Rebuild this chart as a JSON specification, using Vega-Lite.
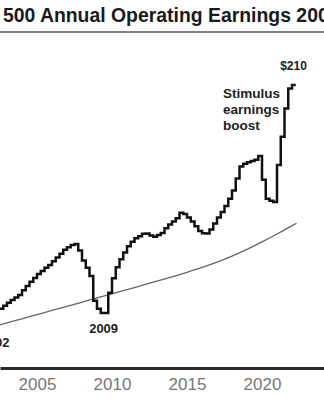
{
  "$schema": "https://vega.github.io/schema/vega-lite/v6.json",
  "width": 324,
  "height": 336,
  "autosize": {"type": "none"},
  "padding": {"left": 0, "right": 0, "top": 32, "bottom": 32},
  "background": "white",
  "title": {
    "text": "S&P 500 Annual Operating Earnings 2002-2022",
    "anchor": "start",
    "frame": "group",
    "dx": -42,
    "dy": 20,
    "offset": 10,
    "baseline": "alphabetic",
    "font": "Liberation Sans",
    "fontSize": 19.4,
    "fontWeight": "bold",
    "color": "#1a1a1a"
  },
  "config": {"view": {"stroke": null}},
  "datasets": {
    "earnings": [
      {"year": 2002.5, "eps": 44.0}, {"year": 2002.75, "eps": 46.3}, {"year": 2003.0, "eps": 48.6}, {"year": 2003.25, "eps": 50.6},
      {"year": 2003.5, "eps": 52.5}, {"year": 2003.75, "eps": 54.4}, {"year": 2004.0, "eps": 57.8}, {"year": 2004.25, "eps": 61.1},
      {"year": 2004.5, "eps": 64.2}, {"year": 2004.75, "eps": 67.0}, {"year": 2005.0, "eps": 69.9}, {"year": 2005.25, "eps": 72.2},
      {"year": 2005.5, "eps": 74.5}, {"year": 2005.75, "eps": 76.7}, {"year": 2006.0, "eps": 79.5}, {"year": 2006.25, "eps": 82.2},
      {"year": 2006.5, "eps": 85.1}, {"year": 2006.75, "eps": 88.0}, {"year": 2007.0, "eps": 89.8}, {"year": 2007.25, "eps": 91.5},
      {"year": 2007.5, "eps": 92.3}, {"year": 2007.75, "eps": 87.5}, {"year": 2008.0, "eps": 80.0}, {"year": 2008.25, "eps": 74.5},
      {"year": 2008.5, "eps": 68.5}, {"year": 2008.75, "eps": 50.0}, {"year": 2009.0, "eps": 44.0}, {"year": 2009.25, "eps": 41.0},
      {"year": 2009.5, "eps": 41.0}, {"year": 2009.75, "eps": 56.0}, {"year": 2010.0, "eps": 66.7}, {"year": 2010.25, "eps": 75.0},
      {"year": 2010.5, "eps": 81.0}, {"year": 2010.75, "eps": 86.0}, {"year": 2011.0, "eps": 90.5}, {"year": 2011.25, "eps": 94.0},
      {"year": 2011.5, "eps": 96.5}, {"year": 2011.75, "eps": 98.0}, {"year": 2012.0, "eps": 99.8}, {"year": 2012.25, "eps": 100.0},
      {"year": 2012.5, "eps": 98.5}, {"year": 2012.75, "eps": 97.7}, {"year": 2013.0, "eps": 99.0}, {"year": 2013.25, "eps": 100.5},
      {"year": 2013.5, "eps": 104.0}, {"year": 2013.75, "eps": 106.8}, {"year": 2014.0, "eps": 109.0}, {"year": 2014.25, "eps": 111.5},
      {"year": 2014.5, "eps": 115.5}, {"year": 2014.75, "eps": 114.5}, {"year": 2015.0, "eps": 112.0}, {"year": 2015.25, "eps": 109.0},
      {"year": 2015.5, "eps": 105.5}, {"year": 2015.75, "eps": 102.0}, {"year": 2016.0, "eps": 100.2}, {"year": 2016.25, "eps": 100.0},
      {"year": 2016.5, "eps": 103.0}, {"year": 2016.75, "eps": 107.5}, {"year": 2017.0, "eps": 112.0}, {"year": 2017.25, "eps": 116.0},
      {"year": 2017.5, "eps": 120.5}, {"year": 2017.75, "eps": 126.0}, {"year": 2018.0, "eps": 132.0}, {"year": 2018.25, "eps": 141.0},
      {"year": 2018.5, "eps": 150.0}, {"year": 2018.75, "eps": 152.0}, {"year": 2019.0, "eps": 153.0}, {"year": 2019.25, "eps": 154.0},
      {"year": 2019.5, "eps": 155.0}, {"year": 2019.75, "eps": 157.7}, {"year": 2020.0, "eps": 140.0}, {"year": 2020.25, "eps": 126.0},
      {"year": 2020.5, "eps": 124.5}, {"year": 2020.75, "eps": 123.5}, {"year": 2021.0, "eps": 151.0}, {"year": 2021.25, "eps": 172.0},
      {"year": 2021.5, "eps": 193.0}, {"year": 2021.75, "eps": 208.0}, {"year": 2022.0, "eps": 210.5}, {"year": 2022.25, "eps": 210.5}
    ],
    "trend": [
      {"year": 2002.5, "eps": 32.0}, {"year": 2003, "eps": 33.5}, {"year": 2004, "eps": 36.6}, {"year": 2005, "eps": 39.7},
      {"year": 2006, "eps": 42.8}, {"year": 2007, "eps": 45.9}, {"year": 2008, "eps": 49.0}, {"year": 2009, "eps": 52.1},
      {"year": 2010, "eps": 55.2}, {"year": 2011, "eps": 58.3}, {"year": 2012, "eps": 61.5}, {"year": 2013, "eps": 64.7},
      {"year": 2014, "eps": 67.8}, {"year": 2015, "eps": 71.2}, {"year": 2016, "eps": 74.8}, {"year": 2017, "eps": 78.8},
      {"year": 2018, "eps": 83.3}, {"year": 2019, "eps": 88.3}, {"year": 2020, "eps": 93.8}, {"year": 2021, "eps": 99.7},
      {"year": 2022, "eps": 105.9}, {"year": 2022.3, "eps": 107.7}
    ]
  },
  "layer": [
    {
      "data": {"values": [{}]},
      "mark": {"type": "rule", "color": "#555555", "strokeWidth": 1.6},
      "encoding": {"y": {"datum": 250, "type": "quantitative", "scale": {"domain": [0, 250], "nice": false}, "axis": null}}
    },
    {
      "data": {"name": "trend"},
      "mark": {"type": "line", "color": "#666666", "strokeWidth": 1.3, "interpolate": "monotone"},
      "encoding": {
        "x": {"field": "year", "type": "quantitative", "scale": {"domain": [2002.533, 2024.133], "nice": false, "zero": false}},
        "y": {"field": "eps", "type": "quantitative", "scale": {"domain": [0, 250], "nice": false}, "axis": null}
      }
    },
    {
      "data": {"name": "earnings"},
      "mark": {"type": "line", "color": "#111111", "strokeWidth": 2.5, "interpolate": "step-after", "strokeJoin": "miter"},
      "encoding": {
        "x": {
          "field": "year", "type": "quantitative",
          "scale": {"domain": [2002.533, 2024.133], "nice": false, "zero": false},
          "axis": {
            "values": [2005, 2010, 2015, 2020], "format": "d", "title": null, "grid": false,
            "ticks": false, "tickSize": 0, "domainColor": "#2a2a2a", "domainWidth": 3,
            "labelFont": "Liberation Sans", "labelFontSize": 17, "labelColor": "#777777",
            "labelPadding": 8
          }
        },
        "y": {"field": "eps", "type": "quantitative", "scale": {"domain": [0, 250], "nice": false}, "axis": null}
      }
    },
    {
      "data": {"values": [{}]},
      "mark": {"type": "text", "font": "Liberation Sans", "fontWeight": "bold", "fontSize": 12, "color": "#222222", "align": "center", "baseline": "alphabetic"},
      "encoding": {"x": {"datum": 2022.1}, "y": {"datum": 221.7}, "text": {"value": "$210"}}
    },
    {
      "data": {"values": [{}]},
      "mark": {"type": "text", "font": "Liberation Sans", "fontWeight": "bold", "fontSize": 13.5, "color": "#222222", "align": "left", "baseline": "alphabetic", "lineHeight": 16},
      "encoding": {"x": {"datum": 2017.4}, "y": {"datum": 200.9}, "text": {"value": ["Stimulus", "earnings", "boost"]}}
    },
    {
      "data": {"values": [{}]},
      "mark": {"type": "text", "font": "Liberation Sans", "fontWeight": "bold", "fontSize": 13, "color": "#222222", "align": "center", "baseline": "alphabetic"},
      "encoding": {"x": {"datum": 2009.44}, "y": {"datum": 26.0}, "text": {"value": "2009"}}
    },
    {
      "data": {"values": [{}]},
      "mark": {"type": "text", "font": "Liberation Sans", "fontWeight": "bold", "fontSize": 13, "color": "#222222", "align": "center", "baseline": "alphabetic"},
      "encoding": {"x": {"datum": 2002.2}, "y": {"datum": 15.6}, "text": {"value": "2002"}}
    }
  ]
}
